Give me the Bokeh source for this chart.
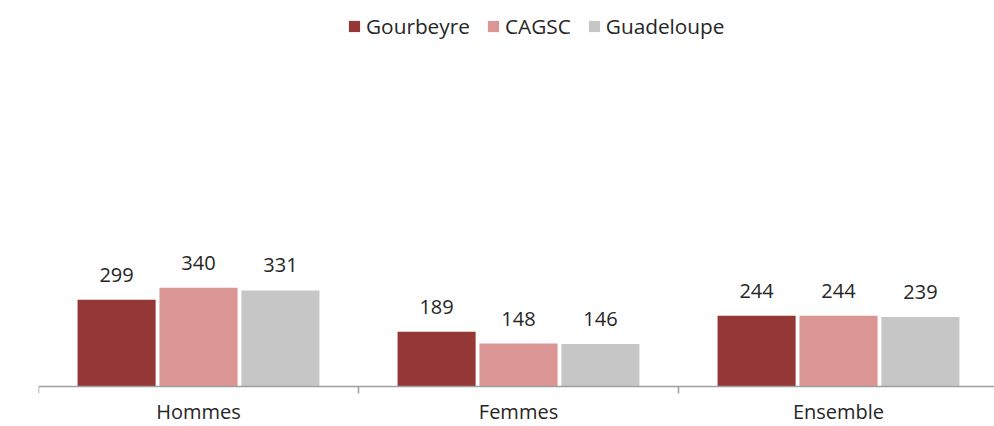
from bokeh.plotting import figure
from bokeh.models import (ColumnDataSource, Legend, LegendItem, FixedTicker,
                          LabelSet, Range1d, LinearAxis)
from bokeh.transform import dodge
from bokeh.core.properties import value
from bokeh.embed import file_html
from bokeh.resources import INLINE

categories = ["Hommes", "Femmes", "Ensemble"]
series_names = ["Gourbeyre", "CAGSC", "Guadeloupe"]
gourbeyre = [299, 189, 244]
cagsc = [340, 148, 244]
guadeloupe = [331, 146, 239]
colors = ["#953735", "#D99694", "#C6C6C6"]

FONT = "Open Sans"
TXT = "#262626"
FS = "20px"

centers = [i + 0.5 for i in range(len(categories))]
data = dict(x=centers, cat=categories)
all_vals = [gourbeyre, cagsc, guadeloupe]
for name, vals in zip(series_names, all_vals):
    data[name] = vals
    data[name + "_lbl"] = [str(v) for v in vals]
source = ColumnDataSource(data)

p = figure(width=994, height=426, output_backend="svg", toolbar_location=None,
           x_range=Range1d(0, 2.9875), y_range=Range1d(-137.8, 1329.7),
           x_axis_location=None, y_axis_location=None,
           min_border_left=38, min_border_right=0, min_border_top=0,
           min_border_bottom=0)
p.outline_line_color = None
p.grid.visible = False
p.background_fill_color = "white"
p.border_fill_color = "white"

offsets = [-0.256, 0.0, 0.256]
items = []
for name, vals, col, off in zip(series_names, all_vals, colors, offsets):
    r = p.vbar(x=dodge("x", off), top=name, width=0.244, source=source,
               fill_color=col, line_color=None)
    items.append(LegendItem(label=name, renderers=[r]))
    lbl = LabelSet(x=dodge("x", off), y=name, text=name + "_lbl", source=source,
                   text_align="center", text_baseline="alphabetic", y_offset=18,
                   text_font=value(FONT), text_font_size=value(FS),
                   text_color=value(TXT))
    p.add_layout(lbl)

ax = LinearAxis(fixed_location=0)
ax.ticker = FixedTicker(ticks=centers, minor_ticks=[0, 1, 2, 3])
ax.major_label_overrides = {c: cat for c, cat in zip(centers, categories)}
ax.major_tick_line_color = None
ax.major_tick_out = 0
ax.major_tick_in = 0
ax.minor_tick_line_color = "#9e9e9e"
ax.minor_tick_line_width = 1.5
ax.minor_tick_out = 7
ax.minor_tick_in = 0
ax.axis_line_color = "#9e9e9e"
ax.axis_line_width = 1.5
ax.major_label_standoff = 5
ax.major_label_text_font = FONT
ax.major_label_text_font_size = FS
ax.major_label_text_color = TXT
p.add_layout(ax, "below")

legend = Legend(items=items, orientation="horizontal", location=(309, 386),
                glyph_width=14, glyph_height=14, label_standoff=5, spacing=16,
                padding=0, margin=0, border_line_color=None,
                background_fill_alpha=0, label_text_font=FONT,
                label_text_font_size="20.8px", label_text_color=TXT)
p.add_layout(legend)

open("out.html", "w").write(file_html(p, INLINE))
